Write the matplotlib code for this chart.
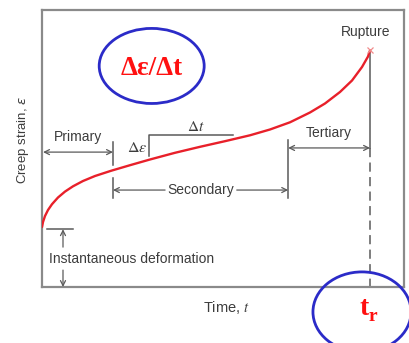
import matplotlib
matplotlib.use("Agg")
import matplotlib.pyplot as plt
from matplotlib.patches import Ellipse

# Creep curve: time (arbitrary units) vs. creep strain (arbitrary units)
time = [0.0, 0.28, 0.83, 1.66, 2.76, 4.42, 6.35, 8.56, 11.33, 14.64, 19.06,
        24.31, 29.83, 36.74, 43.65, 50.55, 57.46, 62.98, 68.51, 74.03,
        78.18, 82.32, 85.64, 88.40, 90.06, 90.61]
strain = [21.66, 23.47, 25.63, 27.80, 29.89, 32.31, 34.44, 36.35, 38.27,
          40.07, 41.95, 43.97, 46.03, 48.45, 50.61, 52.64, 54.77, 56.86,
          59.46, 63.00, 66.25, 70.40, 74.55, 79.42, 83.21, 85.38]

# Stage boundaries and annotation labels
t_primary_end = 19.6
t_tertiary_start = 68.0
t_rupture = time[-1]
strain_rupture = strain[-1]
strain_instant = strain[0]
stage_labels = ["Primary", "Secondary", "Tertiary"]

GRAY = "#5a5a5a"
TXT = "#3c3c3c"
RED = "#e8202a"
BLUE = "#2b2bc8"
SANS = "Liberation Sans"
FS = 10

fig = plt.figure(figsize=(4.09, 3.43), dpi=100)
ax = fig.add_axes([42 / 409, 56 / 343, 362 / 409, 277 / 343])
ax.set_xlim(0, 100)
ax.set_ylim(0, 100)
ax.set_xticks([])
ax.set_yticks([])
for sp in ax.spines.values():
    sp.set_color("#8a8a8a")
    sp.set_linewidth(1.6)

# Creep curve and rupture point
ax.plot(time, strain, color=RED, lw=1.7, solid_capstyle="round",
        solid_joinstyle="round", zorder=3)
ax.plot([t_rupture], [strain_rupture], marker="x", ms=5, mew=0.9,
        color="#f08a8a", zorder=4)
ax.text(t_rupture - 1.1, 92.1, "Rupture", ha="center", va="center",
        fontsize=FS, family=SANS, color=TXT)

# Rupture time marker line: solid above the tertiary arrow, dashed below
y_tert = 50.2
ax.plot([t_rupture, t_rupture], [strain_rupture - 0.8, y_tert], color=GRAY, lw=1.1)
ax.plot([t_rupture, t_rupture], [y_tert, 0], color=GRAY, lw=1.1,
        dashes=(6, 3.5))

arrow_kw = dict(arrowstyle="->", color=GRAY, lw=0.9, shrinkA=0, shrinkB=0,
                mutation_scale=9)
darrow_kw = dict(arrowstyle="<->", color=GRAY, lw=0.9, shrinkA=0, shrinkB=0,
                 mutation_scale=9)

# Primary stage
y_prim = 48.7
ax.annotate("", xy=(0.3, y_prim), xytext=(t_primary_end, y_prim),
            arrowprops=darrow_kw)
ax.plot([t_primary_end, t_primary_end], [52.3, 43.9], color=GRAY, lw=1.1)
ax.text(9.9, 54.2, stage_labels[0], ha="center", va="center", fontsize=FS,
        family=SANS, color=TXT)

# Secondary stage
y_sec = 35.0
ax.plot([t_primary_end, t_primary_end], [39.4, 32.1], color=GRAY, lw=1.1)
ax.plot([t_tertiary_start, t_tertiary_start], [53.1, 32.1], color=GRAY, lw=1.1)
ax.annotate("", xy=(t_primary_end, y_sec), xytext=(34.0, y_sec),
            arrowprops=arrow_kw)
ax.annotate("", xy=(t_tertiary_start, y_sec), xytext=(53.8, y_sec),
            arrowprops=arrow_kw)
ax.text(43.9, y_sec, stage_labels[1], ha="center", va="center", fontsize=FS,
        family=SANS, color=TXT)

# Tertiary stage
ax.annotate("", xy=(t_tertiary_start, y_tert), xytext=(t_rupture, y_tert),
            arrowprops=darrow_kw)
ax.text(79.3, 55.6, stage_labels[2], ha="center", va="center", fontsize=FS,
        family=SANS, color=TXT)

# Slope step (delta strain / delta time)
ax.plot([29.6, 29.6, 52.8], [47.3, 54.9, 54.9], color=GRAY, lw=1.1)
ax.text(42.5, 57.8, r"$\Delta t$", ha="center", va="center", fontsize=11,
        color=TXT, math_fontfamily="stix")
ax.text(26.3, 50.5, r"$\Delta\epsilon$", ha="center", va="center",
        fontsize=11.5, color=TXT, math_fontfamily="stix")

# Instantaneous deformation
x_inst = 5.8
ax.plot([1.4, 8.6], [strain_instant - 0.8, strain_instant - 0.8], color=GRAY, lw=1.1)
ax.annotate("", xy=(x_inst, strain_instant - 0.8), xytext=(x_inst, 14.4),
            arrowprops=arrow_kw)
ax.annotate("", xy=(x_inst, 0), xytext=(x_inst, 6.1), arrowprops=arrow_kw)
ax.text(1.9, 10.1, "Instantaneous deformation", ha="left", va="center",
        fontsize=FS, family=SANS, color=TXT)

# Axis titles
fig.text(226 / 409, 1 - 307 / 343, r"Time, $t$", ha="center", va="center",
         fontsize=10.5, family=SANS, color=TXT, math_fontfamily="stix")
fig.text(23 / 409, 1 - 140 / 343, r"Creep strain, $\epsilon$", ha="center",
         va="center", rotation=90, fontsize=9.5, family=SANS, color=TXT,
         math_fontfamily="dejavusans")

# Highlighted creep rate
ax.add_patch(Ellipse((30.3, 79.8), 29.0, 27.1, fill=False, ec=BLUE, lw=2.0,
                     zorder=5))
ax.text(30.3, 78.8, "\u0394\u03b5/\u0394t", ha="center", va="center",
        fontsize=19.5, family="Liberation Serif", weight="bold",
        color="#ff1010", zorder=6)

# Highlighted rupture time
ax.add_patch(Ellipse((88.4, -9.0), 27.1, 28.9, fill=False, ec=BLUE, lw=2.0,
                     clip_on=False, zorder=5))
ax.text(89.1, -7.6, "t", ha="center", va="center", fontsize=20,
        family="Liberation Serif", weight="bold", color="#ff1010",
        clip_on=False, zorder=6)
ax.text(91.4, -10.8, "r", ha="center", va="center", fontsize=14,
        family="Liberation Serif", weight="bold", color="#ff1010",
        clip_on=False, zorder=6)

fig.savefig("out.png", dpi=100, facecolor="white")
